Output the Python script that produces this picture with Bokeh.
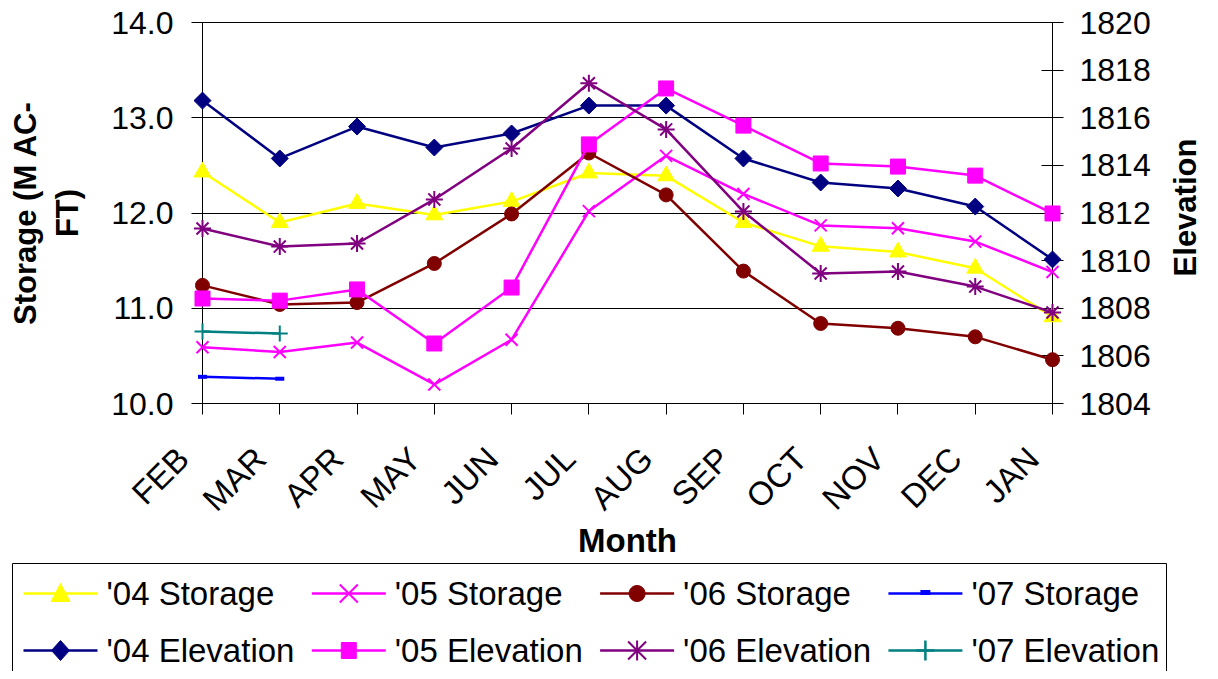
import math
from bokeh.plotting import figure
from bokeh.models import Range1d, LinearAxis, FixedTicker, NumeralTickFormatter
from bokeh.core.properties import value
from bokeh.embed import file_html
from bokeh.resources import INLINE

# ---------------- data ----------------
months = ["FEB", "MAR", "APR", "MAY", "JUN", "JUL", "AUG", "SEP", "OCT", "NOV", "DEC", "JAN"]
storage_04 = [12.43, 11.90, 12.10, 11.98, 12.12, 12.42, 12.39, 11.90, 11.65, 11.59, 11.42, 10.91]
storage_05 = [10.59, 10.54, 10.64, 10.20, 10.67, 12.02, 12.60, 12.20, 11.87, 11.84, 11.70, 11.38]
storage_06 = [11.24, 11.04, 11.06, 11.47, 11.99, 12.63, 12.19, 11.39, 10.84, 10.79, 10.70, 10.46]
storage_07 = [10.28, 10.26]
elev_04 = [1816.72, 1814.29, 1815.63, 1814.75, 1815.34, 1816.51, 1816.51, 1814.29, 1813.28, 1813.03, 1812.27, 1810.05]
elev_05 = [1808.41, 1808.32, 1808.79, 1806.52, 1808.87, 1814.88, 1817.23, 1815.67, 1814.08, 1813.95, 1813.57, 1811.98]
elev_06 = [1811.35, 1810.59, 1810.72, 1812.57, 1814.71, 1817.45, 1815.51, 1812.06, 1809.46, 1809.54, 1808.91, 1807.82]
elev_07 = [1807.02, 1806.94]

left_ticks = [10, 11, 12, 13, 14]
right_ticks = [1804, 1806, 1808, 1810, 1812, 1814, 1816, 1818, 1820]

FONT = "Liberation Sans"
NB = "\u00a0"
NAN = float("nan")

# ---------------- layout constants (pixels) ----------------
W, H = 1210, 671
F_L, F_R, F_T, F_B = 202, 1052, 22, 403        # plot frame
X0, X1 = 0, len(months) - 1
Y0, Y1 = 10, 14


def px_to_x(px):
    return X0 + (px - F_L) / (F_R - F_L) * (X1 - X0)


def py_to_y(py):
    return Y0 + (F_B - py) / (F_B - F_T) * (Y1 - Y0)


p = figure(width=W, height=H, output_backend="svg", toolbar_location=None,
           x_range=Range1d(X0, X1), y_range=Range1d(Y0, Y1),
           min_border_left=F_L, min_border_right=W - F_R, min_border_top=F_T,
           min_border_bottom=H - F_B)
p.extra_y_ranges = {"elev": Range1d(1804, 1820)}
p.outline_line_color = "black"
p.outline_line_width = 1
p.background_fill_color = "white"
p.border_fill_color = "white"

# x axis
xa = p.xaxis[0]
xa.ticker = FixedTicker(ticks=list(range(len(months))))
xa.major_label_overrides = {i: m + NB * 3 for i, m in enumerate(months)}
xa.major_label_orientation = math.pi / 4
xa.minor_tick_line_color = None
xa.major_tick_out = 11
xa.major_tick_in = 0
xa.major_label_standoff = 19
xa.major_label_text_font = FONT
xa.major_label_text_font_size = "33px"
xa.major_label_text_color = "black"
xa.axis_label = "Month"
xa.axis_label_text_font = FONT
xa.axis_label_text_font_size = "33px"
xa.axis_label_text_font_style = "bold"
xa.axis_label_text_color = "black"
xa.axis_label_standoff = -12
xa.axis_line_color = "black"
xa.major_tick_line_color = "black"

# left axis
ya = p.yaxis[0]
ya.ticker = FixedTicker(ticks=left_ticks)
ya.formatter = NumeralTickFormatter(format="0.0")
ya.minor_tick_line_color = None
ya.major_tick_out = 11
ya.major_tick_in = 0
ya.major_label_standoff = 18
ya.major_label_text_font = FONT
ya.major_label_text_font_size = "32px"
ya.major_label_text_color = "black"
ya.axis_label = "Storage (M AC-\nFT)"
ya.axis_label_text_font = FONT
ya.axis_label_text_font_size = "31px"
ya.axis_label_text_font_style = "bold"
ya.axis_label_text_color = "black"
ya.axis_label_standoff = 23
ya.axis_line_color = "black"

# right axis
ra = LinearAxis(y_range_name="elev", ticker=FixedTicker(ticks=right_ticks))
ra.minor_tick_line_color = None
ra.major_tick_out = 11
ra.major_tick_in = 11
ra.major_label_standoff = 16
ra.major_label_text_font = FONT
ra.major_label_text_font_size = "32px"
ra.major_label_text_color = "black"
ra.axis_line_color = "black"
p.add_layout(ra, "right")

# right axis title (reads bottom-to-top)
p.text(x=[px_to_x(1185)], y=[py_to_y(207)], text=["Elevation"], angle=math.pi / 2,
       text_align="center", text_baseline="middle",
       text_font=value(FONT), text_font_size="31px", text_font_style="bold",
       text_color="black", level="overlay")

p.xgrid.grid_line_color = None
p.ygrid.ticker = FixedTicker(ticks=left_ticks)
p.ygrid.grid_line_color = "black"
p.ygrid.grid_line_width = 1

xs = list(range(len(months)))

# label, values, range, colour, marker, size, marker line width, angle
series = [
    ("'04 Storage", storage_04, "default", "#FFFF00", "triangle", 17, 1, 0),
    ("'05 Storage", storage_05, "default", "#FF00FF", "x", 17, 2, 0),
    ("'06 Storage", storage_06, "default", "#800000", "circle", 14, 1, 0),
    ("'07 Storage", storage_07, "default", "#0000FF", "dash", 9, 4, 0),
    ("'04 Elevation", elev_04, "elev", "#000080", "square", 12, 1, math.pi / 4),
    ("'05 Elevation", elev_05, "elev", "#FF00FF", "square", 15, 1, 0),
    ("'06 Elevation", elev_06, "elev", "#800080", "asterisk", 17, 2, 0),
    ("'07 Elevation", elev_07, "elev", "#008080", "cross", 16, 2, 0),
]

for label, vals, rng, color, marker, size, mlw, ang in series:
    x = xs[:len(vals)]
    p.line(x, vals, y_range_name=rng, line_color=color, line_width=2.5, level="overlay")
    p.scatter(x, vals, y_range_name=rng, marker=marker, size=size, angle=ang,
              fill_color=color, line_color=color, line_width=mlw, level="overlay")

# ---------------- legend (4 columns x 2 rows, below the axis title) ----------------
LEG_L, LEG_R, LEG_T, LEG_B = 12, 1166, 563, 690
COL_X = [23 + 288.3 * c for c in range(4)]
ROW_Y = [593, 650]
SW_W, TXT_GAP = 74, 83

# legend swatch shapes, pixel offsets around the swatch centre
CIRCLE = [(8 * math.cos(2 * math.pi * k / 24), 8 * math.sin(2 * math.pi * k / 24)) for k in range(24)]
SHAPES = {
    "triangle": ("fill", [(0, -10), (9.5, 8), (-9.5, 8)]),
    "circle": ("fill", CIRCLE),
    "diamond": ("fill", [(0, -10), (9, 0), (0, 10), (-9, 0)]),
    "square": ("fill", [(-7.5, -8), (7.5, -8), (7.5, 8), (-7.5, 8)]),
    "x": ("stroke", [[(-9, -9), (9, 9)], [(-9, 9), (9, -9)]]),
    "asterisk": ("stroke", [[(-9, -9), (9, 9)], [(-9, 9), (9, -9)], [(0, -10), (0, 10)]]),
    "cross": ("stroke", [[(-9, 0), (9, 0)], [(0, -10), (0, 10)]]),
    "dash": ("stroke", [[(-5, -1), (5, -1)]]),
}
LEG_MARK = ["triangle", "x", "circle", "dash", "diamond", "square", "asterisk", "cross"]
LEG_MLW = [1, 2, 1, 5, 1, 1, 2, 2.5]

p.quad(left=[px_to_x(LEG_L)], right=[px_to_x(LEG_R)], top=[py_to_y(LEG_T)],
       bottom=[py_to_y(LEG_B)], fill_color="white", line_color="black", line_width=1,
       level="overlay")

for i, (label, vals, rng, color, marker, size, mlw, ang) in enumerate(series):
    cx = COL_X[i % 4]
    cyp = ROW_Y[i // 4]
    cy = py_to_y(cyp)
    p.line([px_to_x(cx), px_to_x(cx + SW_W)], [cy, cy], line_color=color, line_width=2.5,
           level="overlay")
    mx = cx + SW_W / 2
    kind, pts = SHAPES[LEG_MARK[i]]
    if kind == "fill":
        p.patch([px_to_x(mx + dx) for dx, dy in pts], [py_to_y(cyp + dy) for dx, dy in pts],
                fill_color=color, line_color=color, line_width=1, level="overlay")
    else:
        lx, ly = [], []
        for seg in pts:
            lx += [px_to_x(mx + dx) for dx, dy in seg] + [NAN]
            ly += [py_to_y(cyp + dy) for dx, dy in seg] + [NAN]
        p.line(lx[:-1], ly[:-1], line_color=color, line_width=LEG_MLW[i], level="overlay")
    p.text(x=[px_to_x(cx + TXT_GAP)], y=[cy], text=[label], text_align="left",
           text_baseline="middle", text_font=value(FONT), text_font_size="33px",
           text_color="black", level="overlay")

open("out.html", "w").write(file_html(p, INLINE))
